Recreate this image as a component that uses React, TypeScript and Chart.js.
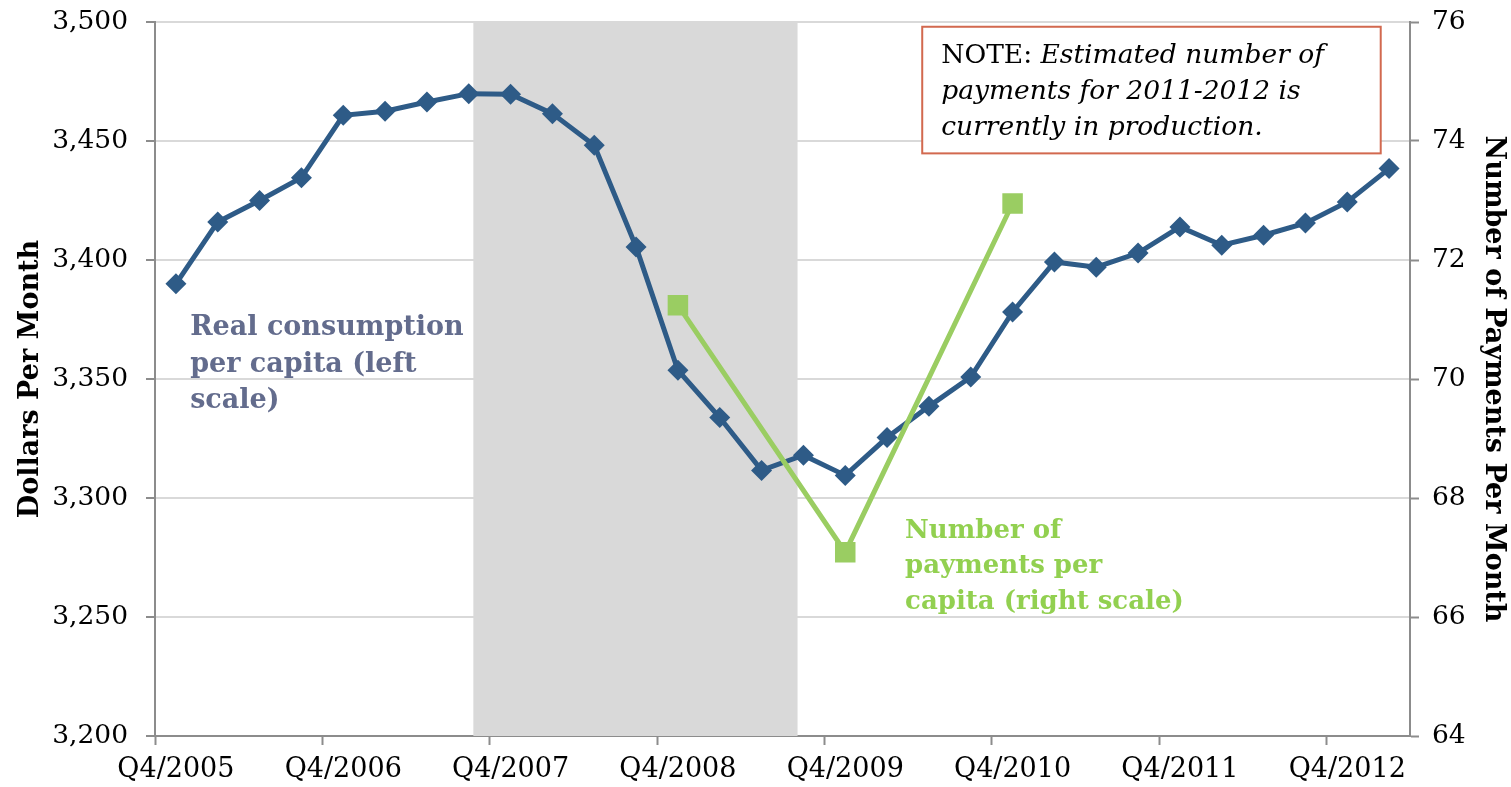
import React, { useEffect, useRef } from 'react';
import { Chart, registerables } from 'chart.js';

Chart.register(...registerables);

const quarters = [
  'Q4/2005', 'Q1/2006', 'Q2/2006', 'Q3/2006',
  'Q4/2006', 'Q1/2007', 'Q2/2007', 'Q3/2007',
  'Q4/2007', 'Q1/2008', 'Q2/2008', 'Q3/2008',
  'Q4/2008', 'Q1/2009', 'Q2/2009', 'Q3/2009',
  'Q4/2009', 'Q1/2010', 'Q2/2010', 'Q3/2010',
  'Q4/2010', 'Q1/2011', 'Q2/2011', 'Q3/2011',
  'Q4/2011', 'Q1/2012', 'Q2/2012', 'Q3/2012',
  'Q4/2012', 'Q1/2013',
];

const consumption = [
  3390, 3416, 3425, 3434.6,
  3460.8, 3462.5, 3466.4, 3469.9,
  3469.6, 3461.5, 3448.2, 3405.5,
  3353.7, 3333.8, 3311.6, 3318,
  3309.5, 3325.4, 3338.5, 3350.8,
  3378.2, 3399.2, 3397, 3402.9,
  3413.9, 3406.2, 3410.4, 3415.5,
  3424.4, 3438.4,
];

const payments: (number | null)[] = [
  null, null, null, null,
  null, null, null, null,
  null, null, null, null,
  71.24, null, null, null,
  67.09, null, null, null,
  72.95, null, null, null,
  null, null, null, null,
  null, null,
];

const leftTickStep = 50;
const rightTickStep = 2;

// recession shading, in category-index units
const recessionStart = 7.11;
const recessionEnd = 14.86;

const consumptionLabel = ['Real consumption', 'per capita (left', 'scale)'];
const paymentsLabel = ['Number of', 'payments per', 'capita (right scale)'];
const noteLead = 'NOTE: ';
const noteLines = ['Estimated number of', 'payments for 2011-2012 is', 'currently in production.'];

const FONT = '"DejaVu Serif", serif';
const BLUE = '#2E5B87';
const GREEN = '#9ACD62';
const GREEN_TEXT = '#92D050';
const SLATE = '#636C8D';
const AXIS = '#8C8C8C';
const GRID = '#D9D9D9';
const SHADE = '#D9D9D9';
const NOTE_BORDER = '#D2694F';

const shadePlugin = {
  id: 'shade',
  beforeDatasetsDraw(chart: any) {
    const { ctx, chartArea, scales } = chart;
    const x0 = scales.x.getPixelForValue(recessionStart);
    const x1 = scales.x.getPixelForValue(recessionEnd);
    ctx.save();
    ctx.fillStyle = SHADE;
    ctx.fillRect(x0, chartArea.top, x1 - x0, chartArea.bottom - chartArea.top);
    ctx.restore();
  },
};

const textPlugin = {
  id: 'texts',
  afterDatasetsDraw(chart: any) {
    const { ctx, scales } = chart;
    const x = scales.x;
    const yL = scales.yL;
    const yR = scales.yR;
    ctx.save();
    ctx.textAlign = 'left';
    ctx.textBaseline = 'alphabetic';

    // consumption label
    ctx.font = `bold 27px ${FONT}`;
    ctx.fillStyle = SLATE;
    const cx = x.getPixelForValue(0.34);
    const cy = yL.getPixelForValue(3368.4);
    consumptionLabel.forEach((t, i) => ctx.fillText(t, cx, cy + i * 36.5));

    // payments label
    ctx.font = `bold 26px ${FONT}`;
    ctx.fillStyle = GREEN_TEXT;
    const px = x.getPixelForValue(17.43);
    const py = yR.getPixelForValue(67.33);
    paymentsLabel.forEach((t, i) => ctx.fillText(t, px, py + i * 35.5));

    // note box
    const bx0 = x.getPixelForValue(17.84);
    const bx1 = x.getPixelForValue(28.8);
    const by0 = yL.getPixelForValue(3498);
    const by1 = yL.getPixelForValue(3444.8);
    ctx.fillStyle = '#FFFFFF';
    ctx.fillRect(bx0, by0, bx1 - bx0, by1 - by0);
    ctx.strokeStyle = NOTE_BORDER;
    ctx.lineWidth = 2;
    ctx.strokeRect(bx0, by0, bx1 - bx0, by1 - by0);
    ctx.fillStyle = '#000000';
    const tx = bx0 + 19;
    ctx.font = `26.5px ${FONT}`;
    ctx.fillText(noteLead, tx, by0 + 36);
    const leadW = ctx.measureText(noteLead).width;
    ctx.font = `italic 26.5px ${FONT}`;
    noteLines.forEach((t, i) => ctx.fillText(t, i === 0 ? tx + leadW : tx, by0 + 36 + i * 36));
    ctx.restore();
  },
};

export default function App() {
  const ref = useRef<HTMLCanvasElement>(null);
  useEffect(() => {
    if (!ref.current) return;
    const chart = new Chart(ref.current, {
      type: 'line',
      data: {
        labels: quarters,
        datasets: [
          {
            label: 'Real consumption per capita (left scale)',
            data: consumption,
            yAxisID: 'yL',
            borderColor: BLUE,
            backgroundColor: BLUE,
            borderWidth: 5,
            pointStyle: 'rectRot',
            pointRadius: 10.5,
            pointBorderWidth: 0,
            tension: 0,
            order: 2,
          },
          {
            label: 'Number of payments per capita (right scale)',
            data: payments,
            yAxisID: 'yR',
            borderColor: GREEN,
            backgroundColor: GREEN,
            borderWidth: 5,
            pointStyle: 'rect',
            pointRadius: 14.5,
            pointBorderWidth: 0,
            spanGaps: true,
            tension: 0,
            order: 1,
          },
        ],
      },
      options: {
        animation: false,
        responsive: false,
        maintainAspectRatio: false,
        layout: { padding: { top: 22, right: 0, bottom: 0, left: 0 } },
        plugins: { legend: { display: false }, tooltip: { enabled: false } },
        scales: {
          x: {
            type: 'category',
            offset: true,
            grid: {
              offset: true,
              drawOnChartArea: false,
              tickLength: 9,
              tickWidth: 2,
              tickColor: (c: any) => (typeof c.index === 'number' && c.index % 4 === 0 ? AXIS : 'rgba(0,0,0,0)'),
            },
            border: { color: AXIS, width: 2 },
            ticks: {
              autoSkip: false,
              maxRotation: 0,
              minRotation: 0,
              padding: 9,
              color: '#000',
              font: { family: FONT, size: 27 },
              callback: (_v: any, i: number) => (i % 4 === 0 ? quarters[i] : ''),
            },
            afterFit: (s: any) => { s.height = 51; s.paddingLeft = 0; s.paddingRight = 0; },
          },
          yL: {
            position: 'left',
            min: 3200,
            max: 3500,
            ticks: {
              stepSize: leftTickStep,
              padding: 18,
              color: '#000',
              font: { family: FONT, size: 26.5 },
              callback: (v: any) => Number(v).toLocaleString('en-US'),
            },
            grid: { color: GRID, lineWidth: 2, tickColor: AXIS, tickLength: 9, tickWidth: 2 },
            border: { color: AXIS, width: 2 },
            title: {
              display: true,
              text: 'Dollars Per Month',
              color: '#000',
              font: { family: FONT, size: 27, weight: 'bold' },
              padding: { top: 14.5, bottom: 0 },
            },
            afterFit: (s: any) => { s.width = 155; s.paddingTop = 0; s.paddingBottom = 0; },
          },
          yR: {
            position: 'right',
            min: 64,
            max: 76,
            ticks: {
              stepSize: rightTickStep,
              padding: 13,
              color: '#000',
              font: { family: FONT, size: 26.5 },
            },
            grid: { drawOnChartArea: false, tickColor: AXIS, tickLength: 9, tickWidth: 2 },
            border: { color: AXIS, width: 2 },
            title: {
              display: true,
              text: 'Number of Payments Per Month',
              color: '#000',
              font: { family: FONT, size: 27, weight: 'bold' },
              padding: { top: 2, bottom: 0 },
            },
            afterFit: (s: any) => { s.width = 101; s.paddingTop = 0; s.paddingBottom = 0; },
          },
        },
      } as any,
      plugins: [shadePlugin, textPlugin],
    });
    return () => chart.destroy();
  }, []);
  return (
    <div style={{ position: 'fixed', left: 0, top: 0, width: 1511, height: 787, background: '#fff' }}>
      <canvas ref={ref} width={1511} height={787} style={{ display: 'block' }} />
    </div>
  );
}
